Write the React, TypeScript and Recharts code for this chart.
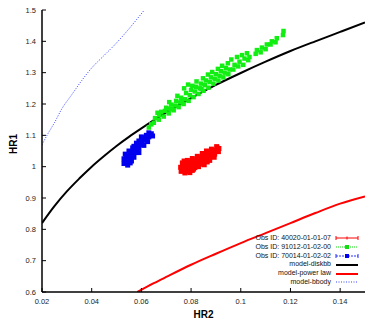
import React from "react";
import { ComposedChart, Line, Scatter, XAxis, YAxis, Legend } from "recharts";

// axis ticks
const xTicks = [0.02, 0.04, 0.06, 0.08, 0.1, 0.12, 0.14];
const yTicks = [0.6, 0.7, 0.8, 0.9, 1, 1.1, 1.2, 1.3, 1.4, 1.5];

// Obs ID: 40020-01-01-07 (red blob)
const obs40020: [number, number][] = [
  [0.076, 0.985], [0.0765, 0.995], [0.077, 1.005], [0.0775, 0.99], [0.078, 1.0],
  [0.0785, 1.012], [0.079, 0.995], [0.0795, 1.005], [0.08, 1.015], [0.0805, 1.0],
  [0.081, 1.01], [0.0815, 1.022], [0.082, 1.005], [0.0825, 1.015], [0.083, 1.028],
  [0.0835, 1.012], [0.084, 1.022], [0.0845, 1.033], [0.085, 1.018], [0.0855, 1.028],
  [0.086, 1.04], [0.0865, 1.025], [0.087, 1.035], [0.0875, 1.045], [0.088, 1.032],
  [0.0885, 1.042], [0.089, 1.052], [0.0895, 1.04], [0.09, 1.05], [0.0905, 1.06],
  [0.091, 1.048], [0.0912, 1.058], [0.079, 0.985], [0.081, 0.992], [0.083, 1.0],
  [0.0775, 0.98], [0.0805, 0.988], [0.0845, 1.008], [0.0865, 1.015],
  [0.0765, 1.012], [0.0785, 1.02], [0.0805, 1.026], [0.0825, 1.033], [0.0845, 1.042],
  [0.0862, 1.05], [0.0882, 1.056], [0.0903, 1.064], [0.0795, 0.981], [0.0815, 0.997],
  [0.0853, 1.006], [0.0875, 1.02], [0.0893, 1.03], [0.0758, 0.998], [0.0772, 1.018],
];

// Obs ID: 91012-01-02-00 (green band)
const obs91012: [number, number][] = [
  [0.063, 1.125], [0.064, 1.135], [0.065, 1.14], [0.0655, 1.155], [0.067, 1.15],
  [0.0672, 1.165], [0.068, 1.175], [0.069, 1.16], [0.0695, 1.178], [0.07, 1.188],
  [0.071, 1.17], [0.0715, 1.185], [0.072, 1.198], [0.073, 1.18], [0.0735, 1.195],
  [0.074, 1.21], [0.075, 1.19], [0.0755, 1.205], [0.076, 1.22], [0.077, 1.2],
  [0.0775, 1.215], [0.078, 1.235], [0.079, 1.21], [0.0795, 1.228], [0.08, 1.245],
  [0.081, 1.222], [0.0815, 1.24], [0.082, 1.255], [0.083, 1.232], [0.0835, 1.25],
  [0.084, 1.265], [0.085, 1.242], [0.0855, 1.26], [0.086, 1.275], [0.087, 1.252],
  [0.0875, 1.27], [0.088, 1.285], [0.089, 1.265], [0.0895, 1.28], [0.09, 1.295],
  [0.091, 1.275], [0.0915, 1.29], [0.092, 1.305], [0.093, 1.285], [0.0935, 1.3],
  [0.094, 1.315], [0.095, 1.295], [0.0955, 1.31], [0.097, 1.31], [0.0975, 1.325],
  [0.099, 1.32], [0.0995, 1.335], [0.101, 1.325], [0.1015, 1.345], [0.103, 1.34],
  [0.1035, 1.35], [0.106, 1.36], [0.1065, 1.372], [0.108, 1.365], [0.1085, 1.38],
  [0.11, 1.375], [0.1105, 1.39], [0.112, 1.39], [0.1125, 1.4], [0.114, 1.397],
  [0.1145, 1.41], [0.117, 1.42], [0.1172, 1.433],
  [0.0665, 1.172], [0.0712, 1.206], [0.0745, 1.226], [0.0772, 1.25], [0.0788, 1.262],
  [0.0805, 1.258], [0.0822, 1.272], [0.0848, 1.282], [0.0868, 1.294], [0.0885, 1.302],
  [0.0908, 1.312], [0.0925, 1.322], [0.0948, 1.33], [0.0962, 1.342], [0.0985, 1.35],
  [0.1005, 1.356], [0.1025, 1.362], [0.0722, 1.183], [0.0762, 1.207], [0.0842, 1.248],
];

// Obs ID: 70014-01-02-02 (blue blob)
const obs70014: [number, number][] = [
  [0.053, 1.01], [0.0535, 1.02], [0.054, 1.03], [0.053, 1.025], [0.0545, 1.015],
  [0.055, 1.035], [0.0555, 1.025], [0.056, 1.045], [0.0555, 1.04], [0.0565, 1.035],
  [0.057, 1.05], [0.0575, 1.06], [0.057, 1.065], [0.058, 1.055], [0.0585, 1.07],
  [0.059, 1.06], [0.0595, 1.075], [0.06, 1.08], [0.059, 1.082], [0.0605, 1.07],
  [0.061, 1.085], [0.0615, 1.092], [0.062, 1.088], [0.0625, 1.098], [0.063, 1.095],
  [0.0635, 1.102], [0.064, 1.105], [0.063, 1.108], [0.062, 1.1], [0.0545, 1.005],
  [0.056, 1.018], [0.058, 1.045],
  [0.0535, 1.04], [0.055, 1.05], [0.0565, 1.06], [0.058, 1.075], [0.06, 1.095],
  [0.0555, 1.012], [0.057, 1.03], [0.059, 1.045], [0.061, 1.068], [0.0625, 1.08],
  [0.0645, 1.098],
];

// model curves
const diskbb: [number, number][] = [
  [0.02, 0.82], [0.025, 0.874], [0.03, 0.921], [0.035, 0.962], [0.04, 1.0],
  [0.045, 1.034], [0.05, 1.066], [0.055, 1.095], [0.06, 1.122], [0.07, 1.173],
  [0.08, 1.219], [0.09, 1.261], [0.1, 1.299], [0.11, 1.335], [0.12, 1.369],
  [0.13, 1.4], [0.14, 1.43], [0.15, 1.46],
];
const powerLaw: [number, number][] = [
  [0.0584, 0.6], [0.065, 0.628], [0.07, 0.648], [0.08, 0.687], [0.09, 0.722],
  [0.1, 0.756], [0.11, 0.788], [0.12, 0.82], [0.13, 0.852], [0.14, 0.882], [0.15, 0.905],
];
const bbody: [number, number][] = [
  [0.02, 1.07], [0.022, 1.1], [0.025, 1.14], [0.028, 1.185], [0.032, 1.23],
  [0.036, 1.275], [0.04, 1.315], [0.045, 1.355], [0.05, 1.395], [0.055, 1.44], [0.0612, 1.5],
];

const toPts = (arr: [number, number][]) => arr.map(([x, y]) => ({ x, y }));

const FONT = "Liberation Sans, Arial, sans-serif";

const XTick = (props: any) => {
  const { x, y, payload } = props;
  return (
    <g>
      <line x1={x} x2={x} y1={y} y2={y - 4} stroke="#000" />
      <text x={x} y={y + 12} textAnchor="middle" fontSize={7.5} fontFamily={FONT} fill="#222">
        {String(payload.value)}
      </text>
    </g>
  );
};
const TopTick = (props: any) => {
  const { x, y } = props;
  return <line x1={x} x2={x} y1={y} y2={y + 4} stroke="#000" />;
};
const YTick = (props: any) => {
  const { x, y, payload } = props;
  return (
    <g>
      <line x1={x} x2={x + 4} y1={y} y2={y} stroke="#000" />
      <text x={x - 6} y={y + 2.5} textAnchor="end" fontSize={7.5} fontFamily={FONT} fill="#222">
        {String(payload.value)}
      </text>
    </g>
  );
};
const RightTick = (props: any) => {
  const { x, y } = props;
  return <line x1={x} x2={x - 4} y1={y} y2={y} stroke="#000" />;
};

const square = (color: string, s: number) => (p: any) =>
  <rect x={p.cx - s / 2} y={p.cy - s / 2} width={s} height={s} fill={color} />;

const legendRows = [
  { label: "Obs ID: 40020-01-01-07", kind: "red-err" },
  { label: "Obs ID: 91012-01-02-00", kind: "green" },
  { label: "Obs ID: 70014-01-02-02", kind: "blue-err" },
  { label: "model-diskbb", kind: "black" },
  { label: "model-power law", kind: "red" },
  { label: "model-bbody", kind: "blue-dot" },
];

const Sample = ({ kind }: { kind: string }) => {
  let inner: React.ReactNode = null;
  if (kind === "red-err") {
    inner = (
      <g stroke="#ff0000" strokeWidth={1}>
        <line x1={1} x2={23} y1={4} y2={4} />
        <line x1={1} x2={1} y1={2} y2={6} />
        <line x1={23} x2={23} y1={2} y2={6} />
        <line x1={12} x2={12} y1={2.5} y2={5.5} />
      </g>
    );
  } else if (kind === "green") {
    inner = (
      <g stroke="#11dd11" strokeWidth={1.2}>
        <line x1={1} x2={23} y1={4} y2={4} strokeDasharray="1 1" />
        <rect x={10} y={2} width={4} height={4} fill="#11dd11" stroke="none" />
      </g>
    );
  } else if (kind === "blue-err") {
    inner = (
      <g stroke="#2233ff" strokeWidth={1}>
        <line x1={1} x2={23} y1={4} y2={4} strokeDasharray="2 1" />
        <line x1={1} x2={1} y1={2} y2={6} />
        <line x1={23} x2={23} y1={2} y2={6} />
        <rect x={10} y={2} width={4} height={4} fill="#0000ee" stroke="none" />
      </g>
    );
  } else if (kind === "black") {
    inner = <line x1={1} x2={23} y1={4} y2={4} stroke="#000" strokeWidth={2} />;
  } else if (kind === "red") {
    inner = <line x1={1} x2={23} y1={4} y2={4} stroke="#ff0000" strokeWidth={2} />;
  } else {
    inner = <line x1={1} x2={23} y1={4} y2={4} stroke="#3344ff" strokeWidth={1} strokeDasharray="1 1.5" />;
  }
  return (
    <svg width={24} height={8} style={{ marginLeft: 4, display: "block" }}>
      {inner}
    </svg>
  );
};

const renderLegend = () => (
  <div style={{ fontFamily: FONT, fontSize: 7, color: "#111" }}>
    {legendRows.map((r) => (
      <div
        key={r.label}
        style={{ display: "flex", justifyContent: "flex-end", alignItems: "center", height: 8.8, lineHeight: "8.8px" }}
      >
        <span>{r.label}</span>
        <Sample kind={r.kind} />
      </div>
    ))}
  </div>
);

export default function App() {
  return (
    <div style={{ position: "absolute", left: 0, top: 0, background: "#fff" }}>
      <ComposedChart width={374} height={320} margin={{ top: 10, right: 9, bottom: 0, left: 0 }}>
        <XAxis
          dataKey="x"
          type="number"
          domain={[0.02, 0.15]}
          ticks={xTicks}
          interval={0}
          allowDataOverflow
          height={28}
          tickSize={0}
          tickMargin={0}
          tickLine={false}
          tick={<XTick />}
          axisLine={{ stroke: "#000", strokeWidth: 1.5 }}
          label={{ value: "HR2", position: "insideBottom", offset: 2, fontSize: 10, fontWeight: "bold", fontFamily: FONT, fill: "#000" }}
        />
        <XAxis
          xAxisId="top"
          orientation="top"
          type="number"
          domain={[0.02, 0.15]}
          ticks={xTicks}
          interval={0}
          height={0}
          tickSize={0}
          tickLine={false}
          tick={<TopTick />}
          axisLine={{ stroke: "#000", strokeWidth: 1 }}
        />
        <YAxis
          type="number"
          domain={[0.6, 1.5]}
          ticks={yTicks}
          interval={0}
          allowDataOverflow
          width={42}
          tickSize={0}
          tickMargin={0}
          tickLine={false}
          tick={<YTick />}
          axisLine={{ stroke: "#000", strokeWidth: 1.5 }}
          label={{
            content: () => (
              <text
                x={13}
                y={144}
                transform="rotate(-90 13 144)"
                textAnchor="middle"
                dominantBaseline="central"
                fontSize={10}
                fontWeight="bold"
                fontFamily={FONT}
                fill="#000"
              >
                HR1
              </text>
            ),
          }}
        />
        <YAxis
          yAxisId="right"
          orientation="right"
          type="number"
          domain={[0.6, 1.5]}
          ticks={yTicks}
          interval={0}
          width={0}
          tickSize={0}
          tickLine={false}
          tick={<RightTick />}
          axisLine={{ stroke: "#555", strokeWidth: 1.5 }}
        />
        <Line
          data={toPts(bbody)}
          dataKey="y"
          type="monotone"
          stroke="#3344ff"
          strokeWidth={1}
          strokeDasharray="1 1.5"
          dot={false}
          isAnimationActive={false}
        />
        <Line
          data={toPts(powerLaw)}
          dataKey="y"
          type="monotone"
          stroke="#ff0000"
          strokeWidth={2}
          dot={false}
          isAnimationActive={false}
        />
        <Line
          data={toPts(diskbb)}
          dataKey="y"
          type="monotone"
          stroke="#000"
          strokeWidth={2}
          dot={false}
          isAnimationActive={false}
        />
        <Scatter data={toPts(obs40020)} dataKey="y" shape={square("#ff0000", 5)} isAnimationActive={false} />
        <Scatter data={toPts(obs91012)} dataKey="y" shape={square("#11ee11", 4.5)} isAnimationActive={false} />
        <Scatter data={toPts(obs70014)} dataKey="y" shape={square("#0000ee", 5)} isAnimationActive={false} />
        <Legend
          layout="horizontal"
          verticalAlign="middle"
          align="center"
          content={renderLegend}
          wrapperStyle={{ position: "absolute", left: 180, top: 234, width: 179, height: 53 }}
        />
      </ComposedChart>
    </div>
  );
}
